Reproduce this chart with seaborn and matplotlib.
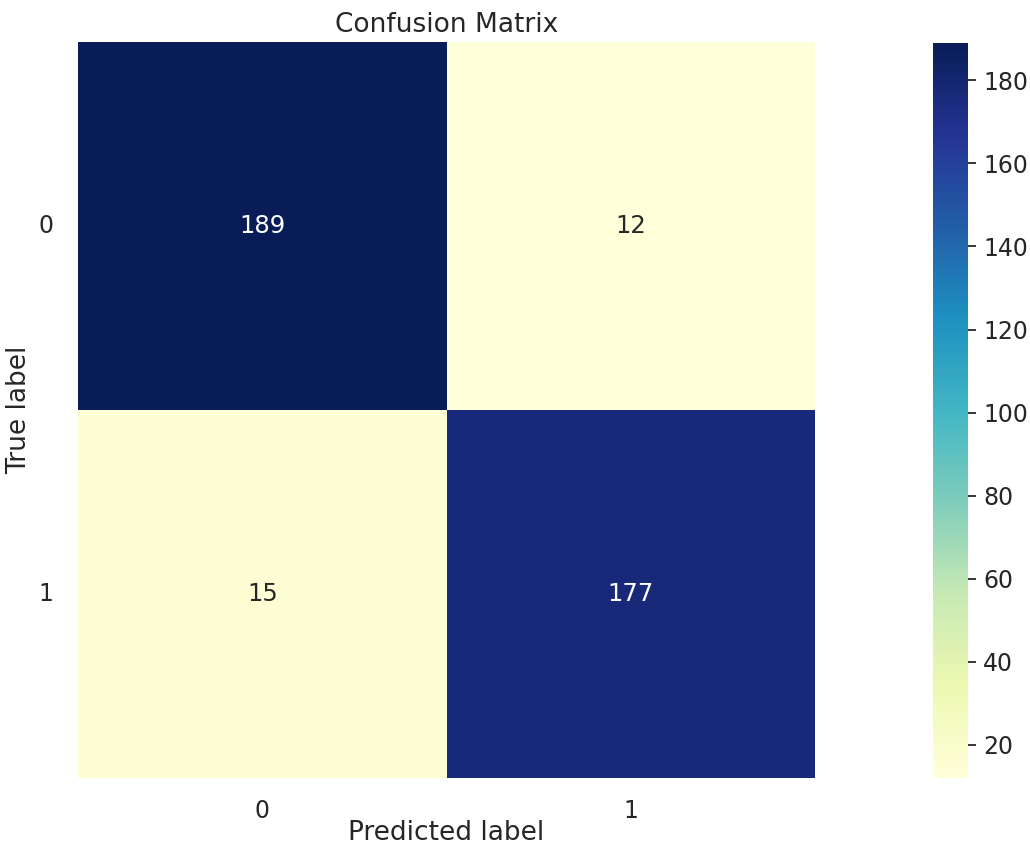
import numpy as np
import pandas as pd
import seaborn as sns
import matplotlib
matplotlib.use("Agg")
import matplotlib.pyplot as plt

true_labels = ["0", "1"]
pred_labels = ["0", "1"]
row0 = [189, 12]
row1 = [15, 177]

cm = pd.DataFrame([row0, row1], index=true_labels, columns=pred_labels)

sns.set_theme(style="white")
plt.rcParams['font.family'] = ['DejaVu Sans']

fig = plt.figure(figsize=(10.30, 8.49), dpi=100)
ax = fig.add_axes([78/1030, 1 - 778/849, 737/1030, 736/849])
cax = fig.add_axes([933/1030, 1 - 778/849, 35/1030, 735/849])

sns.heatmap(cm, annot=True, fmt="d", cmap="YlGnBu", ax=ax, cbar_ax=cax,
            annot_kws={"size": 17.5})

ax.set_title("Confusion Matrix", fontsize=19, color="#262626", pad=7)
ax.set_xlabel("Predicted label", fontsize=19, color="#262626")
ax.set_ylabel("True label", fontsize=19, color="#262626")
ax.xaxis.set_label_coords(0.5, -0.057)
ax.yaxis.set_label_coords(-0.062, 0.5)
ax.tick_params(axis="x", labelsize=17, length=0, pad=15, colors="#262626")
ax.tick_params(axis="y", labelsize=17, length=0, pad=18, colors="#262626", rotation=0)
cax.tick_params(labelsize=17, length=6, width=1.3, colors="#262626", pad=5)

fig.savefig("out.png", dpi=100)
